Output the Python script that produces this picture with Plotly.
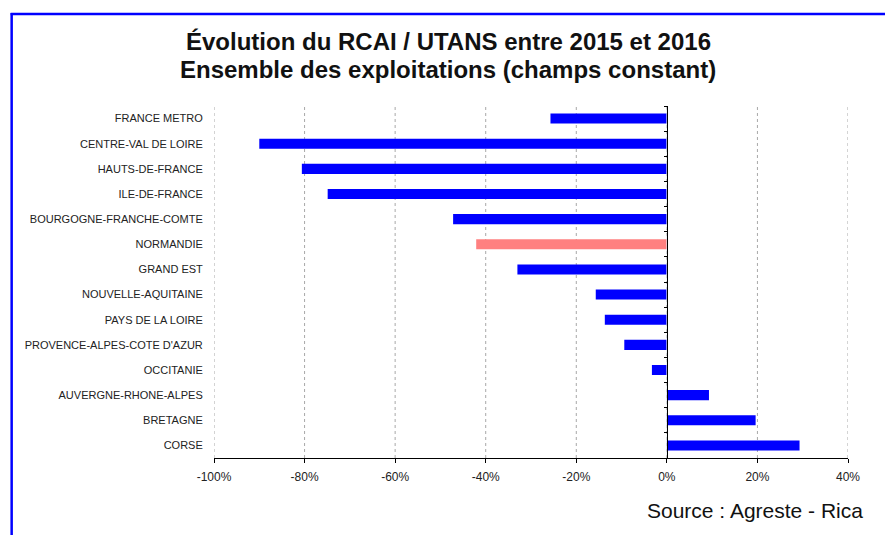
import plotly.graph_objects as go

categories = ["FRANCE METRO", "CENTRE-VAL DE LOIRE", "HAUTS-DE-FRANCE", "ILE-DE-FRANCE",
              "BOURGOGNE-FRANCHE-COMTE", "NORMANDIE", "GRAND EST", "NOUVELLE-AQUITAINE",
              "PAYS DE LA LOIRE", "PROVENCE-ALPES-COTE D'AZUR", "OCCITANIE",
              "AUVERGNE-RHONE-ALPES", "BRETAGNE", "CORSE"]
values = [-25.7, -90.0, -80.6, -74.9, -47.2, -42.1, -33.0, -15.7, -13.7, -9.4, -3.3, 9.3, 19.6, 29.3]
highlight = "NORMANDIE"
x_ticks = [-100, -80, -60, -40, -20, 0, 20, 40]
x_tick_labels = ["-100%", "-80%", "-60%", "-40%", "-20%", "0%", "20%", "40%"]

# page body has an 8px margin: work in reference pixels, shifted
OFF = 8
W, H = 893 - OFF, 535 - OFF
L, R, T, B = 213.5 - OFF, 848 - OFF, 106 - OFF, 458 - OFF

def px(x):
    return (x - OFF - L) / (R - L)

def py(y):
    return (B - (y - OFF)) / (B - T)

colors = ["#FF8080" if c == highlight else "#0000FF" for c in categories]

fig = go.Figure()
fig.add_trace(go.Bar(
    x=values, y=categories, orientation="h",
    marker=dict(color=colors, line=dict(width=0)),
    width=0.4, xaxis="x", yaxis="y", showlegend=False,
))
# invisible trace for the zero-axis category ticks
fig.add_trace(go.Bar(
    x=[0] * len(categories), y=categories, orientation="h",
    marker=dict(color="rgba(0,0,0,0)"), xaxis="x", yaxis="y2",
    showlegend=False, hoverinfo="skip",
))

xmin, xmax = -100, 40
zero_pos = (0 - xmin) / (xmax - xmin)

grid_shapes = [
    dict(type="line", xref="x", yref="paper", x0=v, x1=v, y0=0, y1=1, layer="below",
         line=dict(color="#A8A8A8", width=1, dash="3px,3px"))
    for v in x_ticks
]

fig.update_layout(
    width=W, height=H,
    margin=dict(l=L, r=W - R, t=T, b=H - B, pad=0),
    paper_bgcolor="white", plot_bgcolor="white",
    font=dict(family="Liberation Sans, Arial, sans-serif", color="#222222", size=11),
    xaxis=dict(
        range=[xmin, xmax], tickvals=x_ticks, ticktext=x_tick_labels,
        showgrid=False, zeroline=False, showline=True, linecolor="black", linewidth=1,
        ticks="outside", ticklen=4, tickcolor="black", ticklabelstandoff=4,
        tickfont=dict(size=12, color="#222222"), fixedrange=True,
    ),
    yaxis=dict(
        categoryorder="array", categoryarray=categories[::-1],
        autorange=False, range=[-0.5, len(categories) - 0.5],
        showgrid=False, zeroline=False, showline=False,
        ticks="outside", ticklen=8, tickcolor="rgba(0,0,0,0)",
        tickfont=dict(size=11, color="#222222"),
    ),
    yaxis2=dict(
        overlaying="y", anchor="free", position=zero_pos, side="left",
        categoryorder="array", categoryarray=categories[::-1],
        autorange=False, range=[-0.5, len(categories) - 0.5],
        showgrid=False, zeroline=False, showline=True, linecolor="black", linewidth=1,
        ticks="outside", ticklen=3, tickcolor="black", tickson="boundaries",
        showticklabels=False,
    ),
    shapes=grid_shapes + [
        dict(type="line", xref="paper", yref="paper", x0=px(10), x1=px(900),
             y0=py(14), y1=py(14), line=dict(color="#0000FF", width=2.5)),
        dict(type="line", xref="paper", yref="paper", x0=px(11), x1=px(11),
             y0=py(13), y1=py(540), line=dict(color="#0000FF", width=2.5)),
    ],
    annotations=[
        dict(text="<b>Évolution du RCAI / UTANS entre 2015 et 2016</b>", xref="paper", yref="paper",
             x=px(448), y=py(42), xanchor="center", yanchor="middle", showarrow=False,
             font=dict(size=24, color="#111111")),
        dict(text="<b>Ensemble des exploitations (champs constant)</b>", xref="paper", yref="paper",
             x=px(448), y=py(70), xanchor="center", yanchor="middle", showarrow=False,
             font=dict(size=24, color="#111111")),
        dict(text="Source : Agreste - Rica", xref="paper", yref="paper",
             x=px(865), y=py(510), xanchor="right", yanchor="middle", showarrow=False,
             font=dict(size=21, color="#111111")),
    ],
)

fig.write_html("out.html")
